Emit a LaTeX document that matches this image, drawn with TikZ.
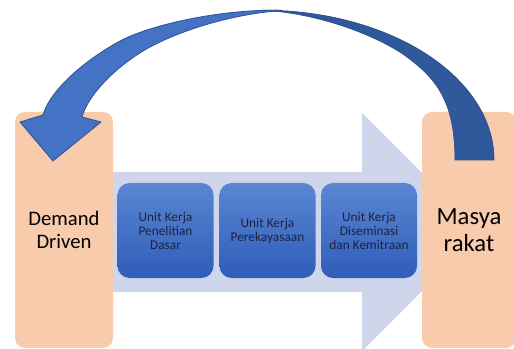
\documentclass[tikz,border=0pt]{standalone}
\usepackage{fontspec}
\setmainfont{Carlito}
\definecolor{peach}{HTML}{F8CBAD}
\definecolor{lav}{HTML}{CFD5EA}
\definecolor{bandlight}{HTML}{4472C4}
\definecolor{banddark}{HTML}{30599B}
\definecolor{bandedge}{HTML}{2F528F}
\definecolor{unittop}{HTML}{5B86D4}
\definecolor{unitbot}{HTML}{2F5DB8}
\definecolor{txt}{HTML}{1A2440}
\begin{document}
\begin{tikzpicture}[x=0.75pt,y=-0.75pt,
  sidebox/.style={fill=peach, rounded corners=7.5pt, align=center, text=black, inner sep=0pt},
  unitbox/.style={rounded corners=9pt, top color=unittop, bottom color=unitbot,
     minimum width=72pt, minimum height=71.25pt, align=center, text=txt, inner sep=0pt,
     font=\fontsize{10}{10.5}\selectfont},
  bandfront/.style={fill=bandlight, draw=bandedge, line width=0.6pt, line join=round},
  bandback/.style={fill=banddark, draw=banddark!85!black, line width=0.5pt, line join=round}]
\useasboundingbox (0,0) rectangle (514,349);
% big light arrow
\fill[lav] (60,172) -- (362,172) -- (362,113) -- (481,232) -- (362,351) -- (362,292) -- (60,292) -- cycle;
% side boxes
\node[sidebox, minimum width=73.5pt, minimum height=177pt, font=\fontsize{15.5}{17.5}\selectfont] (dd) at (64,230) {Demand\\Driven};
\node[sidebox, minimum width=70.5pt, minimum height=177pt, font=\fontsize{18.5}{20}\selectfont] (ms) at (469,230) {Masya\\rakat};
% unit boxes
\node[unitbox] (u1) at (165.5,230.5) {Unit Kerja\\Penelitian\\Dasar};
\node[unitbox] (u2) at (267.5,230.5) {Unit Kerja\\Perekayasaan};
\node[unitbox] (u3) at (369,230.5) {Unit Kerja\\Diseminasi\\dan Kemitraan};
% curved arrow: back (dark) part
\path[bandback] (494,160) .. controls (494,77) and (390,10) .. (262,10.2)
  .. controls (320,13) and (380,37) .. (407,57)
  .. controls (435,78) and (455,100) .. (455,160) -- cycle;
% curved arrow: front (light) part with head
\path[bandfront] (282,10.2) .. controls (220,9) and (150,25) .. (120,41)
  .. controls (85,60) and (50,90) .. (43,115)
  -- (20,122) -- (53,161) -- (101,122) -- (82,117)
  .. controls (88,95) and (115,68) .. (143,51)
  .. controls (175,32) and (230,14) .. (282,10.6) -- cycle;
\end{tikzpicture}
\end{document}
